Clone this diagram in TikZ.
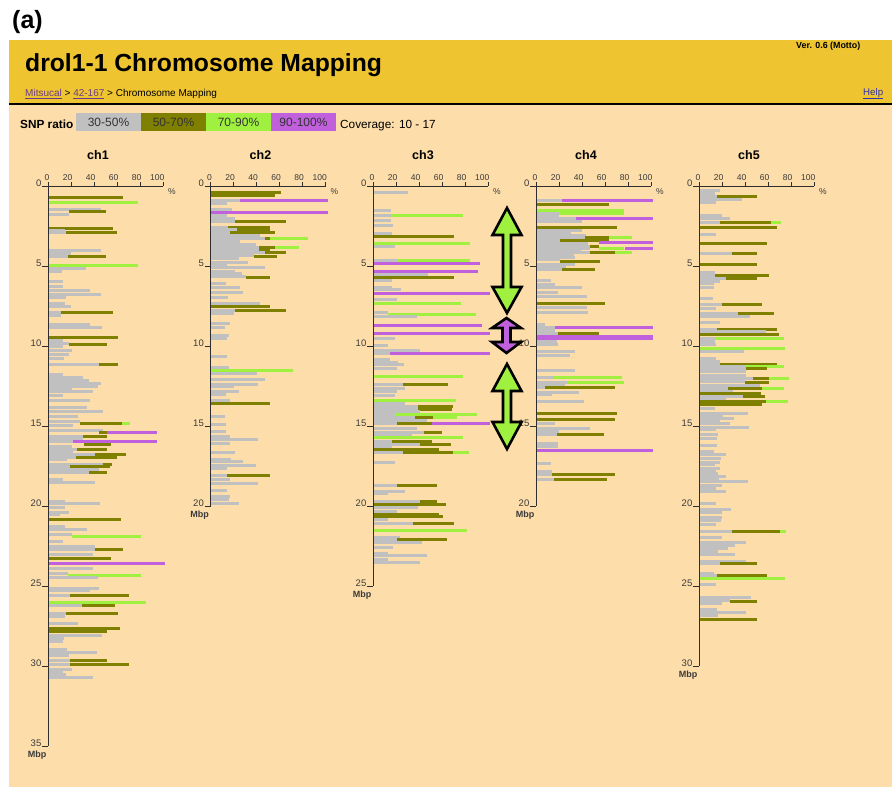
\documentclass[tikz,border=0pt]{standalone}
\usepackage{fontspec}
\setmainfont{Liberation Sans}
\definecolor{peach}{HTML}{FDDDAA}
\definecolor{hdr}{HTML}{EEC430}
\definecolor{barG}{HTML}{C0C0C0}
\definecolor{barO}{HTML}{808000}
\definecolor{barL}{HTML}{A0F040}
\definecolor{barP}{HTML}{C060DC}
\definecolor{linkp}{HTML}{6B3A8A}
\definecolor{linkb}{HTML}{3333AA}
\definecolor{labc}{HTML}{3A3A3A}
\newcommand\xb[4]{\fill[#4] (#2,#1-1.5) rectangle (#3,#1+1.5);}
\newcommand\chax[3]{%
  \draw[axln] (#1,186) -- (#1,{186+16*#3});
  \draw[axln] (#1,186) -- ({#1+115},186);
  \foreach \k in {0,1,...,5}{
    \draw[axln] ({#1+23*\k},186) -- ({#1+23*\k},182);
    \pgfmathtruncatemacro\pv{20*\k}
    \node[pctlab, anchor=base east] at ({#1+23*\k+1.5},180.5) {\pv};
  }
  \node[pctlab] at ({#1+124},192) {\%};
  \pgfmathtruncatemacro\nt{#3/5}
  \foreach \k in {0,...,\nt}{
    \draw[axln] ({#1-6},{186+80*\k}) -- (#1,{186+80*\k});
    \pgfmathtruncatemacro\mv{5*\k}
    \node[mbplab, anchor=base east] at ({#1-6.5},{186+80*\k}) {\mv};
  }
  \node[mbpword] at ({#1-11},{186+16*#3+9}) {Mbp};
  \node[chtitle] (#2) at ({#1+50},155) {#2};
}
\newcommand\dblarr[6]{%
  \draw[arrst, fill=#6] (#1,#2) -- ({#1+14.5},#3) -- ({#1+4},#3) -- ({#1+4},#4) -- ({#1+14.5},#4) -- (#1,#5) -- ({#1-14.5},#4) -- ({#1-4},#4) -- ({#1-4},#3) -- ({#1-14.5},#3) -- cycle;}
\begin{document}
\begin{tikzpicture}[x=1pt,y=-1pt,
  axln/.style={draw=labc!80!black, line width=0.9pt},
  pctlab/.style={inner sep=0pt, font=\fontsize{8.5}{9}\selectfont, text=labc},
  mbplab/.style={inner sep=0pt, font=\fontsize{9.5}{10}\selectfont, text=labc},
  mbpword/.style={inner sep=0pt, font=\bfseries\fontsize{9}{10}\selectfont, text=labc},
  chtitle/.style={inner sep=0pt, font=\bfseries\fontsize{12.5}{14}\selectfont},
  legbox/.style={minimum width=65pt, minimum height=18pt, inner sep=0pt, font=\fontsize{12}{14}\selectfont, text=black!80},
  arrst/.style={draw=black, line width=2.6pt, line join=miter},
]
\useasboundingbox (0,0) rectangle (892,787);
\fill[white] (0,0) rectangle (892,787);
% header
\fill[hdr] (9,40) rectangle (892,102.5);
\fill[black] (9,102.5) rectangle (892,105);
\fill[peach] (9,105) rectangle (892,787);
\node[anchor=base west, inner sep=0pt, font=\bfseries\fontsize{25}{28}\selectfont] (lab) at (12,28) {(a)};
\node[anchor=base west, inner sep=0pt, font=\bfseries\fontsize{24.7}{28}\selectfont] (title) at (25,71.5) {drol1-1 Chromosome Mapping};
\node[anchor=base west, inner sep=0pt, font=\fontsize{10}{12}\selectfont] (crumb) at (25,96.5) {\textcolor{linkp}{\underline{Mitsucal}} > \textcolor{linkp}{\underline{42-167}} > Chromosome Mapping};
\node[anchor=base west, inner sep=0pt, font=\bfseries\fontsize{8.9}{10}\selectfont] (ver) at (796,48) {Ver. 0.6 (Motto)};
\node[anchor=base west, inner sep=0pt, font=\fontsize{9.7}{11}\selectfont, text=linkb] (help) at (863,95) {\underline{Help}};
% legend
\node[anchor=base west, inner sep=0pt, font=\bfseries\fontsize{11.8}{14}\selectfont] (snp) at (20,128) {SNP ratio};
\node[legbox, fill=barG] (l1) at (108.5,122) {30-50\%};
\node[legbox, fill=barO] (l2) at (173.5,122) {50-70\%};
\node[legbox, fill=barL] (l3) at (238.5,122) {70-90\%};
\node[legbox, fill=barP] (l4) at (303.5,122) {90-100\%};
\node[anchor=base west, inner sep=0pt, font=\fontsize{11.8}{14}\selectfont] (cov) at (340,128) {Coverage: 10 - 17};
% ---------------- ch1
\begin{scope}[xshift=48pt]
\xb{197}{0}{75}{barO}
\xb{202}{0}{90}{barL}
\xb{209}{0}{53}{barG}
\xb{211}{21}{58}{barO}
\xb{214}{0}{21}{barG}
\xb{228}{0}{65}{barO}
\xb{230}{0}{17}{barG}
\xb{232}{18}{69}{barO}
\xb{232}{0}{18}{barG}
\xb{250}{0}{53}{barG}
\xb{253}{0}{23}{barG}
\xb{256}{20}{58}{barO}
\xb{256}{0}{20}{barG}
\xb{265}{0}{90}{barL}
\xb{268}{0}{38}{barG}
\xb{271}{0}{14}{barG}
\xb{281}{0}{15}{barG}
\xb{286}{0}{15}{barG}
\xb{290}{0}{42}{barG}
\xb{294}{0}{53}{barG}
\xb{297}{0}{18}{barG}
\xb{303}{0}{17}{barG}
\xb{306}{0}{23}{barG}
\xb{312}{13}{65}{barO}
\xb{312}{0}{13}{barG}
\xb{315}{0}{13}{barG}
\xb{324}{0}{42}{barG}
\xb{327}{0}{54}{barG}
\xb{337}{0}{70}{barO}
\xb{340}{0}{15}{barG}
\xb{343}{0}{21}{barG}
\xb{344}{21}{59}{barO}
\xb{346}{0}{15}{barG}
\xb{350}{0}{24}{barG}
\xb{354}{0}{21}{barG}
\xb{358}{0}{16}{barG}
\xb{364}{0}{51}{barG}
\xb{364}{51}{70}{barO}
\xb{374}{0}{15}{barG}
\xb{377}{0}{35}{barG}
\xb{380}{0}{41}{barG}
\xb{383}{0}{53}{barG}
\xb{386}{0}{50}{barG}
\xb{388}{0}{24}{barG}
\xb{391}{0}{45}{barG}
\xb{395}{0}{15}{barG}
\xb{400}{0}{42}{barG}
\xb{407}{0}{39}{barG}
\xb{411}{0}{55}{barG}
\xb{416}{0}{30}{barG}
\xb{421}{0}{32}{barG}
\xb{423}{32}{74}{barO}
\xb{423}{74}{82}{barL}
\xb{425}{0}{25}{barG}
\xb{430}{0}{55}{barG}
\xb{432}{51}{59}{barO}
\xb{432}{59}{109}{barP}
\xb{436}{0}{35}{barG}
\xb{436}{35}{59}{barO}
\xb{439}{0}{35}{barG}
\xb{441}{25}{109}{barP}
\xb{441}{0}{25}{barG}
\xb{444}{36}{63}{barO}
\xb{446}{0}{24}{barG}
\xb{449}{0}{29}{barG}
\xb{449}{29}{59}{barO}
\xb{451}{0}{25}{barG}
\xb{454}{0}{47}{barG}
\xb{454}{47}{78}{barO}
\xb{457}{0}{28}{barG}
\xb{457}{28}{69}{barO}
\xb{459}{0}{19}{barG}
\xb{464}{0}{55}{barG}
\xb{464}{55}{64}{barO}
\xb{466}{0}{22}{barG}
\xb{466}{22}{62}{barO}
\xb{469}{0}{51}{barG}
\xb{472}{0}{41}{barG}
\xb{472}{41}{59}{barO}
\xb{479}{0}{15}{barG}
\xb{482}{0}{47}{barG}
\xb{501}{0}{17}{barG}
\xb{503}{0}{52}{barG}
\xb{507}{0}{17}{barG}
\xb{512}{0}{21}{barG}
\xb{514}{0}{12}{barG}
\xb{519}{0}{73}{barO}
\xb{526}{0}{17}{barG}
\xb{529}{0}{39}{barG}
\xb{534}{0}{24}{barG}
\xb{536}{24}{93}{barL}
\xb{541}{0}{15}{barG}
\xb{546}{0}{47}{barG}
\xb{549}{0}{47}{barG}
\xb{549}{47}{75}{barO}
\xb{554}{0}{45}{barG}
\xb{558}{0}{63}{barO}
\xb{563}{0}{117}{barP}
\xb{568}{0}{45}{barG}
\xb{573}{0}{20}{barG}
\xb{575}{20}{93}{barL}
\xb{577}{0}{50}{barG}
\xb{588}{0}{51}{barG}
\xb{590}{0}{42}{barG}
\xb{595}{0}{22}{barG}
\xb{595}{22}{81}{barO}
\xb{602}{0}{98}{barL}
\xb{605}{0}{34}{barG}
\xb{605}{34}{67}{barO}
\xb{613}{0}{18}{barG}
\xb{613}{18}{70}{barO}
\xb{616}{0}{17}{barG}
\xb{623}{0}{30}{barG}
\xb{628}{0}{72}{barO}
\xb{631}{0}{59}{barO}
\xb{635}{0}{54}{barG}
\xb{638}{0}{16}{barG}
\xb{641}{0}{15}{barG}
\xb{649}{0}{19}{barG}
\xb{652}{0}{49}{barG}
\xb{655}{0}{21}{barG}
\xb{660}{0}{22}{barG}
\xb{660}{22}{59}{barO}
\xb{664}{0}{22}{barG}
\xb{664}{22}{81}{barO}
\xb{669}{0}{24}{barG}
\xb{671}{0}{15}{barG}
\xb{674}{0}{18}{barG}
\xb{677}{0}{45}{barG}
\end{scope}
% ---------------- ch2
\begin{scope}[xshift=210.5pt]
\xb{192}{0}{70}{barO}
\xb{195}{0}{64}{barO}
\xb{200}{0}{29}{barG}
\xb{200}{29}{117}{barP}
\xb{203}{0}{16}{barG}
\xb{209}{0}{21}{barG}
\xb{212}{0}{117}{barP}
\xb{215}{0}{16}{barG}
\xb{218}{0}{24}{barG}
\xb{221}{0}{24}{barG}
\xb{221}{24}{75}{barO}
\xb{227}{0}{17}{barG}
\xb{227}{17}{59}{barO}
\xb{229}{0}{26}{barG}
\xb{229}{26}{59}{barO}
\xb{232}{0}{19}{barG}
\xb{232}{19}{64}{barO}
\xb{235}{0}{49}{barG}
\xb{238}{0}{54}{barG}
\xb{238}{54}{59}{barO}
\xb{238}{59}{97}{barL}
\xb{241}{0}{29}{barG}
\xb{244}{0}{45}{barG}
\xb{247}{0}{48}{barG}
\xb{247}{48}{64}{barO}
\xb{247}{64}{88}{barL}
\xb{249}{0}{48}{barG}
\xb{249}{48}{59}{barO}
\xb{252}{0}{54}{barG}
\xb{252}{54}{75}{barO}
\xb{255}{0}{43}{barG}
\xb{256}{43}{66}{barO}
\xb{258}{0}{28}{barG}
\xb{262}{0}{37}{barG}
\xb{264}{0}{16}{barG}
\xb{267}{0}{54}{barG}
\xb{271}{0}{24}{barG}
\xb{273}{0}{31}{barG}
\xb{276}{0}{35}{barG}
\xb{277}{35}{59}{barO}
\xb{283}{0}{15}{barG}
\xb{287}{0}{29}{barG}
\xb{292}{0}{32}{barG}
\xb{297}{0}{17}{barG}
\xb{303}{0}{49}{barG}
\xb{306}{0}{59}{barO}
\xb{310}{0}{24}{barG}
\xb{310}{24}{75}{barO}
\xb{313}{0}{23}{barG}
\xb{323}{0}{19}{barG}
\xb{327}{0}{14}{barG}
\xb{335}{0}{18}{barG}
\xb{338}{0}{16}{barG}
\xb{356}{0}{16}{barG}
\xb{367}{0}{18}{barG}
\xb{370}{0}{82}{barL}
\xb{373}{0}{46}{barG}
\xb{379}{0}{54}{barG}
\xb{384}{0}{47}{barG}
\xb{386}{0}{23}{barG}
\xb{391}{0}{28}{barG}
\xb{394}{0}{15}{barG}
\xb{400}{0}{19}{barG}
\xb{403}{0}{59}{barO}
\xb{416}{0}{14}{barG}
\xb{424}{0}{15}{barG}
\xb{431}{0}{15}{barG}
\xb{436}{0}{19}{barG}
\xb{439}{0}{47}{barG}
\xb{443}{0}{19}{barG}
\xb{452}{0}{24}{barG}
\xb{459}{0}{20}{barG}
\xb{461}{0}{32}{barG}
\xb{465}{0}{45}{barG}
\xb{468}{0}{16}{barG}
\xb{475}{0}{16}{barG}
\xb{475}{16}{59}{barO}
\xb{479}{0}{19}{barG}
\xb{483}{0}{47}{barG}
\xb{490}{0}{16}{barG}
\xb{496}{0}{19}{barG}
\xb{499}{0}{18}{barG}
\xb{503}{0}{28}{barG}
\end{scope}
% ---------------- ch3
\begin{scope}[xshift=373pt]
\xb{192}{0}{35}{barG}
\xb{210}{0}{18}{barG}
\xb{215}{0}{18}{barG}
\xb{215}{18}{90}{barL}
\xb{220}{0}{18}{barG}
\xb{225}{0}{20}{barG}
\xb{233}{0}{19}{barG}
\xb{236}{0}{81}{barO}
\xb{243}{0}{97}{barL}
\xb{246}{0}{22}{barG}
\xb{260}{0}{24}{barG}
\xb{260}{24}{97}{barL}
\xb{263}{0}{107}{barP}
\xb{271}{0}{105}{barP}
\xb{274}{0}{55}{barG}
\xb{277}{0}{81}{barO}
\xb{280}{0}{19}{barG}
\xb{287}{0}{19}{barG}
\xb{289}{0}{28}{barG}
\xb{293}{0}{117}{barP}
\xb{299}{0}{24}{barG}
\xb{303}{0}{88}{barL}
\xb{312}{0}{15}{barG}
\xb{314}{15}{103}{barL}
\xb{316}{0}{44}{barG}
\xb{325}{0}{109}{barP}
\xb{333}{0}{117}{barP}
\xb{338}{0}{22}{barG}
\xb{345}{0}{15}{barG}
\xb{350}{0}{47}{barG}
\xb{353}{0}{17}{barG}
\xb{353}{17}{117}{barP}
\xb{359}{0}{17}{barG}
\xb{362}{0}{25}{barG}
\xb{364}{0}{31}{barG}
\xb{368}{0}{24}{barG}
\xb{376}{0}{90}{barL}
\xb{384}{0}{30}{barG}
\xb{384}{30}{75}{barO}
\xb{388}{0}{32}{barG}
\xb{391}{0}{24}{barG}
\xb{395}{0}{22}{barG}
\xb{400}{0}{83}{barL}
\xb{403}{0}{32}{barG}
\xb{406}{0}{45}{barG}
\xb{406}{45}{80}{barO}
\xb{409}{0}{45}{barG}
\xb{409}{45}{79}{barO}
\xb{411}{0}{47}{barG}
\xb{414}{0}{22}{barG}
\xb{414}{22}{104}{barL}
\xb{417}{0}{42}{barG}
\xb{417}{42}{60}{barO}
\xb{417}{60}{84}{barL}
\xb{420}{0}{54}{barG}
\xb{423}{0}{24}{barG}
\xb{423}{24}{59}{barO}
\xb{423}{59}{117}{barP}
\xb{428}{0}{44}{barG}
\xb{432}{0}{51}{barG}
\xb{432}{51}{69}{barO}
\xb{435}{0}{39}{barG}
\xb{437}{0}{90}{barL}
\xb{441}{0}{19}{barG}
\xb{441}{19}{59}{barO}
\xb{444}{0}{47}{barG}
\xb{444}{47}{78}{barO}
\xb{446}{0}{19}{barG}
\xb{449}{0}{66}{barO}
\xb{452}{0}{30}{barG}
\xb{452}{30}{80}{barO}
\xb{452}{80}{96}{barL}
\xb{462}{0}{22}{barG}
\xb{485}{0}{24}{barG}
\xb{485}{24}{64}{barO}
\xb{491}{0}{32}{barG}
\xb{493}{0}{15}{barG}
\xb{501}{0}{47}{barG}
\xb{501}{47}{64}{barO}
\xb{504}{0}{73}{barO}
\xb{507}{0}{45}{barG}
\xb{511}{0}{24}{barG}
\xb{514}{0}{66}{barO}
\xb{516}{0}{70}{barO}
\xb{519}{0}{15}{barG}
\xb{523}{0}{40}{barG}
\xb{523}{40}{81}{barO}
\xb{530}{0}{94}{barL}
\xb{537}{0}{27}{barG}
\xb{539}{0}{24}{barG}
\xb{539}{24}{74}{barO}
\xb{542}{0}{49}{barG}
\xb{547}{0}{20}{barG}
\xb{553}{0}{15}{barG}
\xb{555}{0}{54}{barG}
\xb{559}{0}{15}{barG}
\xb{562}{0}{47}{barG}
\end{scope}
% ---------------- ch4
\begin{scope}[xshift=536pt]
\xb{200}{0}{26}{barG}
\xb{200}{26}{117}{barP}
\xb{204}{0}{73}{barO}
\xb{210}{0}{88}{barL}
\xb{213}{0}{23}{barG}
\xb{213}{23}{88}{barL}
\xb{216}{0}{23}{barG}
\xb{218}{0}{40}{barG}
\xb{218}{40}{117}{barP}
\xb{221}{0}{46}{barG}
\xb{227}{0}{81}{barO}
\xb{230}{0}{46}{barG}
\xb{233}{0}{35}{barG}
\xb{235}{0}{50}{barG}
\xb{237}{0}{49}{barG}
\xb{237}{49}{73}{barO}
\xb{237}{73}{96}{barL}
\xb{240}{0}{24}{barG}
\xb{240}{24}{73}{barO}
\xb{242}{63}{117}{barP}
\xb{243}{0}{52}{barG}
\xb{246}{0}{54}{barG}
\xb{246}{54}{63}{barO}
\xb{248}{0}{54}{barG}
\xb{248}{63}{88}{barL}
\xb{248}{89}{117}{barP}
\xb{250}{0}{45}{barG}
\xb{252}{0}{54}{barG}
\xb{252}{54}{79}{barO}
\xb{252}{79}{96}{barL}
\xb{255}{0}{38}{barG}
\xb{257}{0}{39}{barG}
\xb{259}{0}{24}{barG}
\xb{261}{24}{64}{barO}
\xb{264}{0}{39}{barG}
\xb{266}{0}{30}{barG}
\xb{269}{0}{26}{barG}
\xb{269}{26}{59}{barO}
\xb{280}{0}{15}{barG}
\xb{284}{0}{19}{barG}
\xb{287}{0}{46}{barG}
\xb{292}{0}{22}{barG}
\xb{296}{0}{51}{barG}
\xb{303}{0}{69}{barO}
\xb{307}{0}{51}{barG}
\xb{312}{0}{52}{barG}
\xb{324}{0}{9}{barG}
\xb{327}{0}{19}{barG}
\xb{327}{19}{117}{barP}
\xb{330}{0}{19}{barG}
\xb{333}{0}{22}{barG}
\xb{333}{22}{63}{barO}
\xb{336}{0}{117}{barP}
\xb{338}{0}{117}{barP}
\xb{341}{0}{21}{barG}
\xb{344}{0}{22}{barG}
\xb{351}{0}{39}{barG}
\xb{355}{0}{34}{barG}
\xb{370}{0}{39}{barG}
\xb{377}{0}{18}{barG}
\xb{377}{18}{86}{barL}
\xb{382}{0}{31}{barG}
\xb{382}{31}{88}{barL}
\xb{385}{0}{29}{barG}
\xb{387}{0}{9}{barG}
\xb{387}{9}{79}{barO}
\xb{392}{0}{43}{barG}
\xb{394}{0}{16}{barG}
\xb{401}{0}{48}{barG}
\xb{413}{0}{81}{barO}
\xb{419}{0}{79}{barO}
\xb{423}{0}{19}{barG}
\xb{428}{0}{54}{barG}
\xb{431}{0}{23}{barG}
\xb{434}{0}{21}{barG}
\xb{434}{21}{68}{barO}
\xb{443}{0}{22}{barG}
\xb{446}{0}{22}{barG}
\xb{450}{0}{117}{barP}
\xb{463}{0}{15}{barG}
\xb{471}{0}{16}{barG}
\xb{474}{0}{16}{barG}
\xb{474}{16}{79}{barO}
\xb{479}{0}{18}{barG}
\xb{479}{18}{71}{barO}
\end{scope}
% ---------------- ch5
\begin{scope}[xshift=699pt]
\xb{190}{0}{21}{barG}
\xb{193}{0}{16}{barG}
\xb{196}{0}{18}{barG}
\xb{196}{18}{58}{barO}
\xb{199}{0}{43}{barG}
\xb{202}{0}{17}{barG}
\xb{215}{0}{23}{barG}
\xb{218}{0}{31}{barG}
\xb{222}{0}{21}{barG}
\xb{222}{21}{72}{barO}
\xb{222}{72}{82}{barL}
\xb{227}{0}{78}{barO}
\xb{234}{0}{17}{barG}
\xb{243}{0}{68}{barO}
\xb{253}{0}{33}{barG}
\xb{253}{33}{58}{barO}
\xb{264}{0}{58}{barO}
\xb{272}{0}{16}{barG}
\xb{275}{0}{16}{barG}
\xb{275}{16}{70}{barO}
\xb{278}{0}{27}{barG}
\xb{278}{27}{58}{barO}
\xb{281}{0}{21}{barG}
\xb{283}{0}{15}{barG}
\xb{287}{0}{15}{barG}
\xb{298}{0}{14}{barG}
\xb{304}{0}{23}{barG}
\xb{304}{23}{63}{barO}
\xb{308}{0}{17}{barG}
\xb{313}{0}{39}{barG}
\xb{313}{39}{75}{barO}
\xb{316}{0}{51}{barG}
\xb{322}{0}{21}{barG}
\xb{329}{0}{18}{barG}
\xb{329}{18}{78}{barO}
\xb{331}{0}{67}{barG}
\xb{334}{0}{80}{barO}
\xb{338}{0}{16}{barG}
\xb{338}{16}{85}{barL}
\xb{341}{0}{16}{barG}
\xb{344}{0}{17}{barG}
\xb{348}{0}{86}{barL}
\xb{351}{0}{45}{barG}
\xb{358}{0}{17}{barG}
\xb{361}{0}{21}{barG}
\xb{364}{0}{21}{barG}
\xb{364}{21}{78}{barO}
\xb{366}{0}{46}{barG}
\xb{366}{46}{85}{barL}
\xb{368}{0}{47}{barG}
\xb{368}{47}{68}{barO}
\xb{371}{0}{47}{barG}
\xb{375}{0}{47}{barG}
\xb{378}{0}{54}{barG}
\xb{378}{54}{70}{barO}
\xb{378}{70}{90}{barL}
\xb{381}{0}{46}{barG}
\xb{382}{46}{70}{barO}
\xb{385}{0}{61}{barG}
\xb{388}{0}{29}{barG}
\xb{388}{29}{63}{barO}
\xb{388}{63}{85}{barL}
\xb{391}{0}{34}{barG}
\xb{393}{0}{62}{barO}
\xb{396}{0}{44}{barG}
\xb{396}{44}{66}{barO}
\xb{398}{0}{27}{barG}
\xb{401}{0}{67}{barO}
\xb{401}{67}{89}{barL}
\xb{404}{0}{63}{barO}
\xb{408}{0}{16}{barG}
\xb{413}{0}{49}{barG}
\xb{415}{0}{24}{barG}
\xb{418}{0}{35}{barG}
\xb{421}{0}{21}{barG}
\xb{423}{0}{31}{barG}
\xb{427}{0}{50}{barG}
\xb{429}{0}{17}{barG}
\xb{434}{0}{19}{barG}
\xb{438}{0}{18}{barG}
\xb{445}{0}{18}{barG}
\xb{451}{0}{15}{barG}
\xb{454}{0}{27}{barG}
\xb{458}{0}{22}{barG}
\xb{462}{0}{21}{barG}
\xb{464}{0}{16}{barG}
\xb{468}{0}{21}{barG}
\xb{470}{0}{17}{barG}
\xb{473}{0}{19}{barG}
\xb{476}{0}{27}{barG}
\xb{478}{0}{20}{barG}
\xb{481}{0}{49}{barG}
\xb{485}{0}{23}{barG}
\xb{488}{0}{17}{barG}
\xb{491}{0}{27}{barG}
\xb{503}{0}{17}{barG}
\xb{509}{0}{32}{barG}
\xb{512}{0}{23}{barG}
\xb{517}{0}{23}{barG}
\xb{520}{0}{22}{barG}
\xb{524}{0}{17}{barG}
\xb{531}{0}{33}{barG}
\xb{531}{33}{81}{barO}
\xb{531}{81}{87}{barL}
\xb{537}{0}{23}{barG}
\xb{542}{0}{47}{barG}
\xb{545}{0}{36}{barG}
\xb{548}{0}{29}{barG}
\xb{551}{0}{19}{barG}
\xb{554}{0}{36}{barG}
\xb{561}{0}{47}{barG}
\xb{563}{0}{21}{barG}
\xb{563}{21}{58}{barO}
\xb{573}{0}{15}{barG}
\xb{575}{0}{18}{barG}
\xb{575}{18}{68}{barO}
\xb{578}{0}{86}{barL}
\xb{584}{0}{17}{barG}
\xb{597}{0}{52}{barG}
\xb{600}{0}{31}{barG}
\xb{601}{31}{58}{barO}
\xb{603}{0}{23}{barG}
\xb{609}{0}{18}{barG}
\xb{612}{0}{47}{barG}
\xb{615}{0}{19}{barG}
\xb{619}{0}{58}{barO}
\end{scope}
% axes
\chax{48}{ch1}{35}
\chax{210.5}{ch2}{20}
\chax{373}{ch3}{25}
\chax{536}{ch4}{20}
\chax{699}{ch5}{30}
% arrows
\dblarr{507}{208}{235}{287}{313}{barL}
\dblarr{506.5}{318}{328}{342}{353}{barP}
\dblarr{507}{364}{391}{422}{449}{barL}
\end{tikzpicture}
\end{document}
